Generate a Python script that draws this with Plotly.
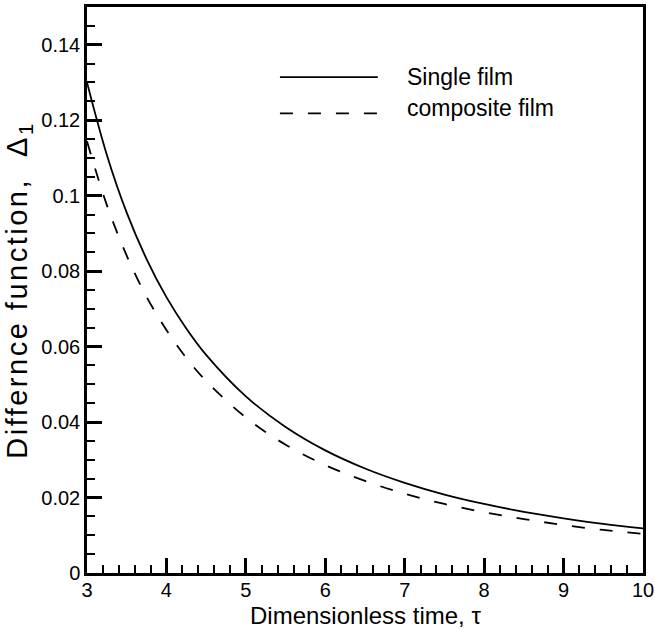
import plotly.graph_objects as go

tau = [3, 3.25, 3.5, 3.75, 4, 4.25, 4.5, 5, 5.5, 6, 6.5, 7, 7.5, 8, 8.5, 9, 9.5, 10]
single_film = [0.130, 0.1108, 0.0955, 0.0832, 0.0731, 0.0648, 0.0578, 0.0468, 0.0387,
               0.0325, 0.0277, 0.0239, 0.0208, 0.0183, 0.0162, 0.0145, 0.0130, 0.0118]
composite_film = [0.1144, 0.0975, 0.0841, 0.0732, 0.0644, 0.0570, 0.0509, 0.0412, 0.0340,
                  0.0286, 0.0244, 0.0210, 0.0183, 0.0161, 0.0143, 0.0127, 0.0114, 0.0104]

x_ticks = [3, 4, 5, 6, 7, 8, 9, 10]
y_ticks = [0, 0.02, 0.04, 0.06, 0.08, 0.1, 0.12, 0.14]
y_tick_text = ["0", "0.02", "0.04", "0.06", "0.08", "0.1", "0.12", "0.14"]
series_names = ["Single film", "composite film"]
x_title = "Dimensionless time, τ"
y_title = "Differnce function,  Δ<sub>1</sub>"

FONT = "Liberation Sans, Arial, Helvetica, sans-serif"

fig = go.Figure()
fig.add_trace(go.Scatter(x=tau, y=single_film, mode="lines", name=series_names[0],
                         line=dict(color="black", width=1.8, shape="spline")))
fig.add_trace(go.Scatter(x=tau, y=composite_film, mode="lines", name=series_names[1],
                         line=dict(color="black", width=1.8, dash="13px,15px", shape="spline")))

axis_common = dict(
    showgrid=False, zeroline=False, showline=True, linecolor="black", linewidth=2.5,
    mirror=True, ticks="inside", tickcolor="black", tickwidth=2.5, ticklen=15,
    tickfont=dict(family=FONT, size=20, color="black"),
)

fig.update_xaxes(
    range=[3, 10], tickvals=x_ticks, ticklabelstandoff=-3,
    minor=dict(ticks="inside", dtick=0.2, ticklen=8, tickwidth=1.5, tickcolor="black"),
    **axis_common,
)
fig.update_yaxes(
    range=[0, 0.15], tickvals=y_ticks, ticktext=y_tick_text,
    minor=dict(ticks="inside", dtick=0.005, ticklen=8, tickwidth=1.5, tickcolor="black"),
    title=dict(text='<span style="letter-spacing:2.5px">' + y_title + '</span>',
               font=dict(family=FONT, size=29, color="black"), standoff=6),
    **axis_common,
)

# x-axis title placed as in the original
fig.add_annotation(xref="paper", yref="paper", x=0.5, y=-0.1007, text=x_title, showarrow=False,
                   xanchor="center", yanchor="bottom", borderpad=0,
                   font=dict(family=FONT, size=24, color="black"))

# manual legend (long line samples as in the original)
legend_rows = [(0.876, "solid", series_names[0], 0.876), (0.812, "13px,15px", series_names[1], 0.822)]
for ly, dash, label, ty in legend_rows:
    fig.add_shape(type="line", xref="paper", yref="paper", x0=0.347, x1=0.523, y0=ly, y1=ly,
                  line=dict(color="black", width=1.8, dash=dash))
    fig.add_annotation(xref="paper", yref="paper", x=0.572, y=ty, text=label, showarrow=False,
                       xanchor="left", yanchor="middle",
                       font=dict(family=FONT, size=23, color="black"))

fig.update_layout(
    width=655, height=630, showlegend=False,
    margin=dict(l=87, r=12, t=7, b=57, autoexpand=False),
    paper_bgcolor="white", plot_bgcolor="white",
    font=dict(family=FONT, color="black"),
)

fig.write_html("out.html", config={"displayModeBar": False},
               post_script="document.body.style.margin='0';document.body.style.overflow='hidden';")
